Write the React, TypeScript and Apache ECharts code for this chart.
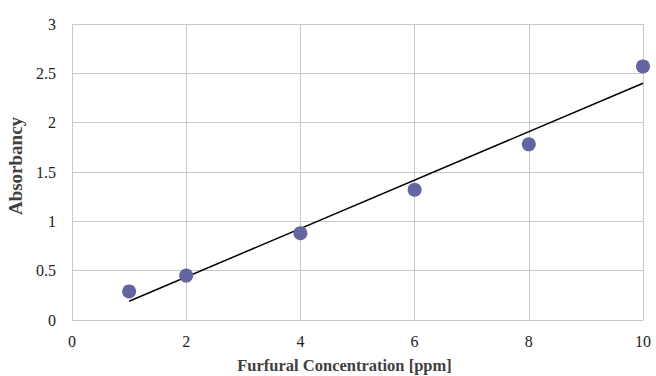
import React, { useEffect, useRef } from "react";
import * as echarts from "echarts";

const concentration = [1, 2, 4, 6, 8, 10];
const absorbancy = [0.29, 0.45, 0.88, 1.32, 1.78, 2.57];
const trendX = [1, 10];
const trendY = [0.19, 2.4];

export default function App() {
  const ref = useRef<HTMLDivElement>(null);
  useEffect(() => {
    const chart = echarts.init(ref.current!, null, { renderer: "svg" });
    const font = "Liberation Serif";
    chart.setOption({
      animation: false,
      textStyle: { fontFamily: font },
      grid: { left: 72, right: 13, top: 24, bottom: 56, containLabel: false, outerBoundsMode: "none" },
      xAxis: {
        type: "value",
        min: 0,
        max: 10,
        interval: 2,
        name: "Furfural Concentration [ppm]",
        nameLocation: "middle",
        nameGap: 37,
        nameTextStyle: { fontFamily: font, fontWeight: "bold", fontSize: 16.5, color: "#404040", padding: [0, 26, 0, 0] },
        axisLine: { show: true, lineStyle: { color: "#c8c8c8" } },
        axisTick: { show: false },
        axisLabel: { fontFamily: font, fontSize: 16, color: "#222", margin: 13 },
        splitLine: { show: true, lineStyle: { color: "#c8c8c8" } },
      },
      yAxis: {
        type: "value",
        min: 0,
        max: 3,
        interval: 0.5,
        name: "Absorbancy",
        nameLocation: "middle",
        nameGap: 36,
        nameTextStyle: { fontFamily: font, fontWeight: "bold", fontSize: 19, color: "#404040", padding: [0, 0, 0, 12] },
        axisLine: { show: true, lineStyle: { color: "#c8c8c8" } },
        axisTick: { show: false },
        axisLabel: { fontFamily: font, fontSize: 16, color: "#222", margin: 16 },
        splitLine: { show: true, lineStyle: { color: "#c8c8c8" } },
      },
      series: [
        {
          type: "line",
          data: trendX.map((x, i) => [x, trendY[i]]),
          showSymbol: false,
          symbol: "none",
          lineStyle: { color: "#000", width: 1.5 },
          z: 3,
        },
        {
          type: "scatter",
          data: concentration.map((x, i) => [x, absorbancy[i]]),
          symbolSize: 14,
          itemStyle: { color: "#6464a2", opacity: 1 },
          z: 4,
        },
      ],
    });
    return () => chart.dispose();
  }, []);
  return <div ref={ref} style={{ width: 656, height: 376, position: "absolute", left: 0, top: 0 }} />;
}
